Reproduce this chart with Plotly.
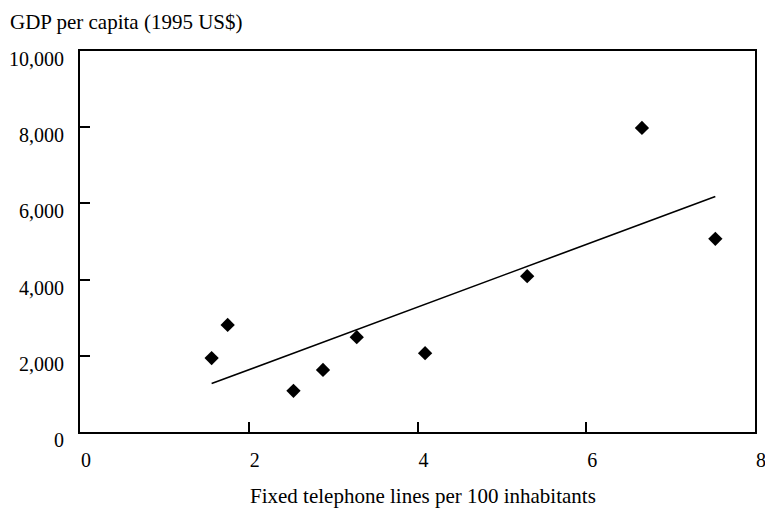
import numpy as np
import plotly.graph_objects as go

# Data
phone_lines = [1.56, 1.75, 2.53, 2.88, 3.28, 4.09, 5.30, 6.66, 7.53]
gdp_per_capita = [1940, 2810, 1080, 1630, 2490, 2070, 4090, 7980, 5070]

x_tickvals = [0, 2, 4, 6, 8]
y_tickvals = [0, 2000, 4000, 6000, 8000, 10000]
y_ticktext = ["0", "2,000", "4,000", "6,000", "8,000", "10,000"]

# Linear trend (least squares)
slope, intercept = np.polyfit(phone_lines, gdp_per_capita, 1)
trend_x = [min(phone_lines), max(phone_lines)]
trend_y = [slope * v + intercept for v in trend_x]

FONT = "Liberation Serif"

fig = go.Figure()
fig.add_trace(go.Scatter(
    x=trend_x, y=trend_y, mode="lines",
    line=dict(color="black", width=1.6),
    showlegend=False, hoverinfo="skip",
))
fig.add_trace(go.Scatter(
    x=phone_lines, y=gdp_per_capita, mode="markers",
    marker=dict(symbol="diamond", size=11, color="black"),
    showlegend=False,
))

PLOT_H = 381
fig.update_layout(
    width=765, height=504,
    margin=dict(l=72, r=18, t=43, b=80),
    paper_bgcolor="white", plot_bgcolor="white",
    font=dict(family=FONT, size=20, color="black"),
    xaxis=dict(
        range=[0, 8], tickvals=x_tickvals, ticktext=[str(v) for v in x_tickvals],
        ticks="inside", ticklen=10, tickwidth=1.5, tickcolor="black",
        showline=True, linecolor="black", linewidth=2, mirror=True,
        showgrid=False, zeroline=False, automargin=False,
        ticklabelstandoff=9, ticklabelshift=6,
    ),
    yaxis=dict(
        range=[0, 10000], tickvals=y_tickvals, ticktext=y_ticktext,
        ticks="inside", ticklen=10, tickwidth=1.5, tickcolor="black",
        showline=True, linecolor="black", linewidth=2, mirror=True,
        showgrid=False, zeroline=False, automargin=False,
        ticklabelstandoff=10, ticklabelshift=8,
    ),
    annotations=[
        dict(text="GDP per capita (1995 US$)", xref="paper", yref="paper",
             x=(0 - 72) / 675, y=(424 - 0) / PLOT_H, xanchor="left", yanchor="top",
             showarrow=False, font=dict(family=FONT, size=21)),
        dict(text="Fixed telephone lines per 100 inhabitants", xref="paper", yref="paper",
             x=(423 - 80) / 675, y=(424 - 502) / PLOT_H, xanchor="center", yanchor="bottom",
             showarrow=False, font=dict(family=FONT, size=21)),
    ],
)

fig.write_html("out.html")
